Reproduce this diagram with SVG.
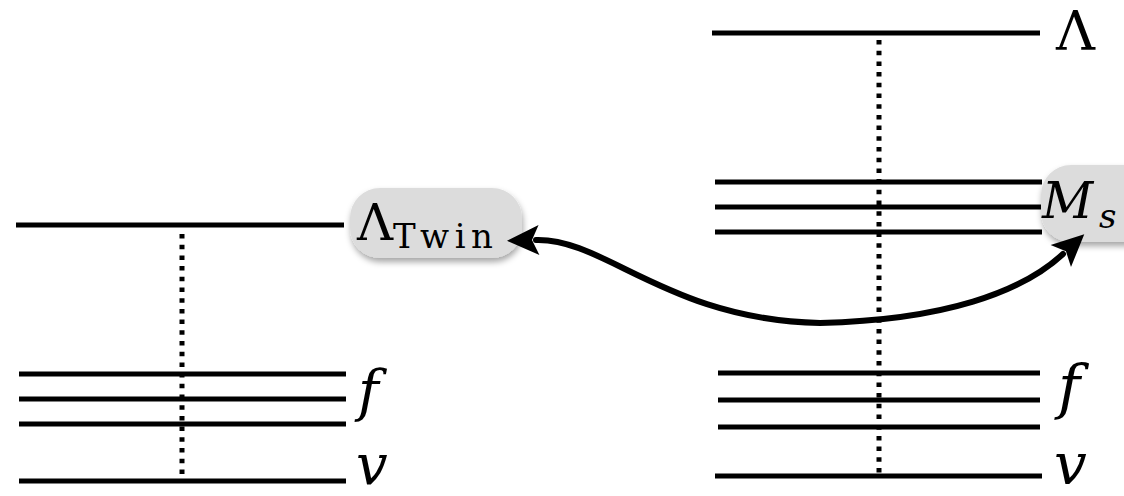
<svg xmlns="http://www.w3.org/2000/svg" width="1124" height="496" viewBox="0 0 1124 496">
<style>
.lvl{stroke:#000;stroke-width:5;fill:none}
.dot{stroke:#000;stroke-width:5;stroke-dasharray:4.5 6.2;fill:none}
.bub{fill:#dcdcdc;filter:url(#sh)}
.lab{font-family:"DejaVu Serif","Liberation Serif",serif;fill:#000}
.it{font-style:italic}
.conn{stroke:#000;stroke-width:6;fill:none;stroke-linecap:round}
</style>
<defs>
<filter id="sh" x="-20%" y="-20%" width="140%" height="160%">
<feDropShadow dx="1" dy="4" stdDeviation="3" flood-color="#000" flood-opacity="0.35"/>
</filter>
<marker id="ah" viewBox="-2 -18 40 36" refX="3" refY="0" markerWidth="40" markerHeight="36" markerUnits="userSpaceOnUse" orient="auto-start-reverse">
<path d="M0,-15 L32,0 L0,15 L7,0 Z" fill="#000"/>
</marker>
</defs>
<rect width="1124" height="496" fill="#fff"/>
<g id="left-spectrum">
<line class="dot" x1="182" y1="234" x2="182" y2="480"/>
<line class="lvl" x1="16" y1="225" x2="344" y2="225"/>
<line class="lvl" x1="19" y1="374" x2="346" y2="374"/>
<line class="lvl" x1="19" y1="399" x2="346" y2="399"/>
<line class="lvl" x1="19" y1="424" x2="346" y2="424"/>
<line class="lvl" x1="19" y1="481" x2="346" y2="481"/>
<text class="lab it" x="358" y="410" font-size="56">f</text>
<text class="lab it" x="356" y="484" font-size="56">v</text>
</g>
<g id="right-spectrum">
<line class="dot" x1="879" y1="40" x2="879" y2="476"/>
<line class="lvl" x1="712" y1="33" x2="1040" y2="33"/>
<line class="lvl" x1="715" y1="182" x2="1042" y2="182"/>
<line class="lvl" x1="715" y1="207" x2="1042" y2="207"/>
<line class="lvl" x1="715" y1="232" x2="1042" y2="232"/>
<line class="lvl" x1="718" y1="373" x2="1040" y2="373"/>
<line class="lvl" x1="718" y1="400" x2="1040" y2="400"/>
<line class="lvl" x1="718" y1="427" x2="1040" y2="427"/>
<line class="lvl" x1="715" y1="476" x2="1042" y2="476"/>
<text class="lab" x="1056" y="50" font-size="54">Λ</text>
<text class="lab it" x="1058" y="408" font-size="60">f</text>
<text class="lab it" x="1054" y="484" font-size="58">v</text>
</g>
<g id="node-lambda-twin">
<rect class="bub" x="350" y="188" width="172" height="70" rx="30"/>
<text class="lab" x="357" y="240" font-size="50">Λ</text>
<text class="lab" x="393" y="248" font-size="34" textLength="100" lengthAdjust="spacing">Twin</text>
</g>
<g id="node-ms">
<rect class="bub" x="1041" y="165" width="120" height="77" rx="30"/>
<text class="lab it" x="1042" y="218" font-size="50">M</text>
<text class="lab it" x="1099" y="228" font-size="34">s</text>
</g>
<g id="connectors">
<path class="conn" d="M536 240 C605 238 668 320 820 323 C945 320 1022 292 1063 254" marker-start="url(#ah)" marker-end="url(#ah)"/>
</g>
</svg>
